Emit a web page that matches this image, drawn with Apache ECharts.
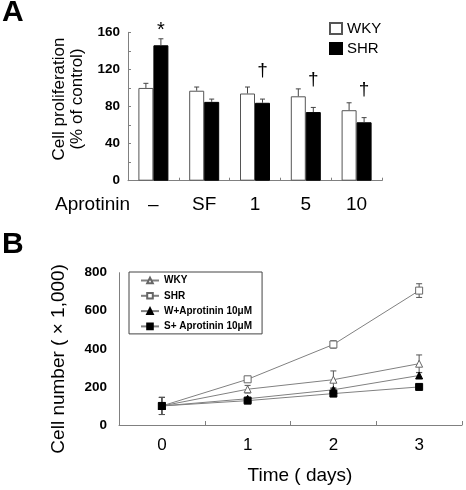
<!DOCTYPE html>
<html><head><meta charset="utf-8">
<script src="https://cdn.jsdelivr.net/npm/echarts@6/dist/echarts.min.js"></script>
<style>html,body{margin:0;padding:0;background:#fff;}#a{position:absolute;left:0;top:0;width:466px;height:230px;}#b{position:absolute;left:0;top:230px;width:466px;height:260px;}</style>
</head><body><div id="a"></div><div id="b"></div>
<script>
// Panel A data
var catsA = ['–', 'SF', '1', '5', '10'];
var wkyA = [100, 97, 94, 91, 76];
var shrA = [146, 85, 84, 74, 63];
var wkyErrA = [5, 4, 7, 8, 8];
var shrErrA = [7, 3, 4, 5, 5];
var marksA = ['*', '', '†', '†', '†'];
var yTicksA = [0, 40, 80, 120, 160];

// Panel B data
var days = ['0', '1', '2', '3'];
var wkyB = [100, 188, 238, 322];
var shrB = [100, 240, 423, 706];
var wApB = [100, 138, 185, 260];
var sApB = [100, 128, 165, 200];
var wkyErrB = [45, 20, 46, 46];
var shrErrB = [45, 12, 19, 36];
var wApErrB = [45, 8, 10, 15];
var sApErrB = [45, 8, 15, 6];

var FONT = 'Arial, "Liberation Sans", sans-serif';

// ---------- Panel A ----------
var chartA = echarts.init(document.getElementById('a'), null, {renderer: 'canvas'});
function errA(vals, errs, off, withMarks) {
  return {
    type: 'custom',
    z: 5,
    data: vals.map(function (v, i) { return [i, v, errs[i]]; }),
    renderItem: function (params, api) {
      var i = api.value(0), v = api.value(1), e = api.value(2);
      var p = api.coord([i, v]), q = api.coord([i, v + e]);
      var x = p[0] + off;
      var ch = [
        {type: 'line', shape: {x1: x, y1: p[1], x2: x, y2: q[1]}, style: {stroke: '#444', lineWidth: 1}},
        {type: 'line', shape: {x1: x - 2.5, y1: q[1], x2: x + 2.5, y2: q[1]}, style: {stroke: '#444', lineWidth: 1}}
      ];
      if (withMarks) {
        var m = marksA[params.dataIndex];
        if (m) {
          ch.push({type: 'text', style: {text: m, x: x, y: q[1] - (m === '*' ? 8 : 28), align: 'center', verticalAlign: 'middle',
            font: (m === '*' ? '20px ' : '19px ') + FONT, fill: '#000'}});
        }
      }
      return {type: 'group', children: ch};
    }
  };
}
chartA.setOption({
  animation: false,
  grid: {left: 128, right: 84, top: 32.3, bottom: 49.3},
  legend: {
    orient: 'vertical', left: 324, top: 16, itemWidth: 12, itemHeight: 11, itemGap: 5,
    icon: 'rect', data: ['WKY', 'SHR'],
    textStyle: {fontFamily: FONT, fontSize: 15, color: '#000'}
  },
  xAxis: {
    type: 'category', data: catsA,
    axisLine: {lineStyle: {color: '#808080', width: 1}},
    axisTick: {show: true, inside: true, length: 3, lineStyle: {color: '#808080'}},
    axisLabel: {fontFamily: FONT, fontSize: 19, color: '#000', margin: 15}
  },
  yAxis: {
    type: 'value', min: 0, max: 160, interval: 20,
    name: 'Cell proliferation\n(% of control)', nameLocation: 'middle', nameGap: 29, nameRotate: 90,
    nameTextStyle: {fontFamily: FONT, fontSize: 17, color: '#000', lineHeight: 18, padding: [0, 0, 0, 15]},
    axisLine: {show: true, lineStyle: {color: '#808080', width: 1}},
    axisTick: {show: true, inside: true, length: 3, lineStyle: {color: '#808080'}},
    splitLine: {show: false},
    axisLabel: {fontFamily: FONT, fontSize: 13.5, fontWeight: 'bold', color: '#000', margin: 8,
      formatter: function (v) { return yTicksA.indexOf(v) >= 0 ? String(v) : ''; }}
  },
  graphic: [
    {type: 'text', left: 2, top: -2, style: {text: 'A', font: 'bold 30px ' + FONT, fill: '#000'}},
    {type: 'text', left: 55, top: 195, style: {text: 'Aprotinin', font: '19px ' + FONT, fill: '#000'}}
  ],
  series: [
    {name: 'WKY', type: 'bar', data: wkyA, barWidth: 15, barGap: '0%',
      itemStyle: {color: '#fff', borderColor: '#555', borderWidth: 1}},
    {name: 'SHR', type: 'bar', data: shrA, barWidth: 15, barGap: '0%',
      itemStyle: {color: '#000', borderColor: '#000', borderWidth: 1}},
    errA(wkyA, wkyErrA, -7.5, false),
    errA(shrA, shrErrA, 7.5, true)
  ]
});

// ---------- Panel B ----------
var chartB = echarts.init(document.getElementById('b'), null, {renderer: 'canvas'});
function errB(vals, errs) {
  return {
    type: 'custom', z: 1,
    data: vals.map(function (v, i) { return [i, v, errs[i]]; }),
    renderItem: function (params, api) {
      var i = api.value(0), v = api.value(1), e = api.value(2);
      var a = api.coord([i, v + e]), b = api.coord([i, v - e]);
      var x = a[0];
      return {type: 'group', children: [
        {type: 'line', shape: {x1: x, y1: a[1], x2: x, y2: b[1]}, style: {stroke: '#555', lineWidth: 1}},
        {type: 'line', shape: {x1: x - 3, y1: a[1], x2: x + 3, y2: a[1]}, style: {stroke: '#555', lineWidth: 1}},
        {type: 'line', shape: {x1: x - 3, y1: b[1], x2: x + 3, y2: b[1]}, style: {stroke: '#555', lineWidth: 1}}
      ]};
    }
  };
}
function lineB(name, data, symbol, fill) {
  return {
    name: name, type: 'line', data: data, symbol: symbol, symbolSize: 7,
    showAllSymbol: true, z: 3,
    lineStyle: {color: '#808080', width: 1},
    itemStyle: {color: fill, borderColor: fill === '#000' ? '#000' : '#666', borderWidth: 1}
  };
}
chartB.setOption({
  animation: false,
  grid: {left: 119, right: 4, top: 42.7, bottom: 61.7},
  legend: {
    orient: 'vertical', left: 129, top: 42, itemWidth: 18, itemHeight: 7, itemGap: 0.3,
    padding: [1, 10, 0, 11], borderColor: '#444', borderWidth: 1,
    data: ['WKY', 'SHR', 'W+Aprotinin 10μM', 'S+ Aprotinin 10μM'],
    textStyle: {fontFamily: FONT, fontSize: 10, fontWeight: 'bold', color: '#000', lineHeight: 15}
  },
  xAxis: {
    type: 'category', data: days, boundaryGap: true,
    name: 'Time ( days)', nameLocation: 'middle', nameGap: 41,
    nameTextStyle: {fontFamily: FONT, fontSize: 19, color: '#000', padding: [0, 0, 0, 19]},
    axisLine: {lineStyle: {color: '#808080', width: 1}},
    axisTick: {show: true, inside: true, length: 4, lineStyle: {color: '#808080'}},
    axisLabel: {fontFamily: FONT, fontSize: 17, color: '#000', margin: 12}
  },
  yAxis: {
    type: 'value', min: 0, max: 800, interval: 200,
    name: 'Cell number ( × 1,000)', nameLocation: 'middle', nameGap: 51, nameRotate: 90,
    nameTextStyle: {fontFamily: FONT, fontSize: 19, color: '#000', padding: [0, 20, 0, 0]},
    axisLine: {show: true, lineStyle: {color: '#808080', width: 1}},
    axisTick: {show: false},
    splitLine: {show: false},
    axisLabel: {fontFamily: FONT, fontSize: 13.5, fontWeight: 'bold', color: '#000', margin: 12}
  },
  graphic: [
    {type: 'text', left: 2, top: 0, style: {text: 'B', font: 'bold 30px ' + FONT, fill: '#000'}}
  ],
  series: [
    errB(wkyB, wkyErrB), errB(shrB, shrErrB), errB(wApB, wApErrB), errB(sApB, sApErrB),
    lineB('WKY', wkyB, 'triangle', '#fff'),
    lineB('SHR', shrB, 'rect', '#fff'),
    lineB('W+Aprotinin 10μM', wApB, 'triangle', '#000'),
    lineB('S+ Aprotinin 10μM', sApB, 'rect', '#000')
  ]
});
</script></body></html>
